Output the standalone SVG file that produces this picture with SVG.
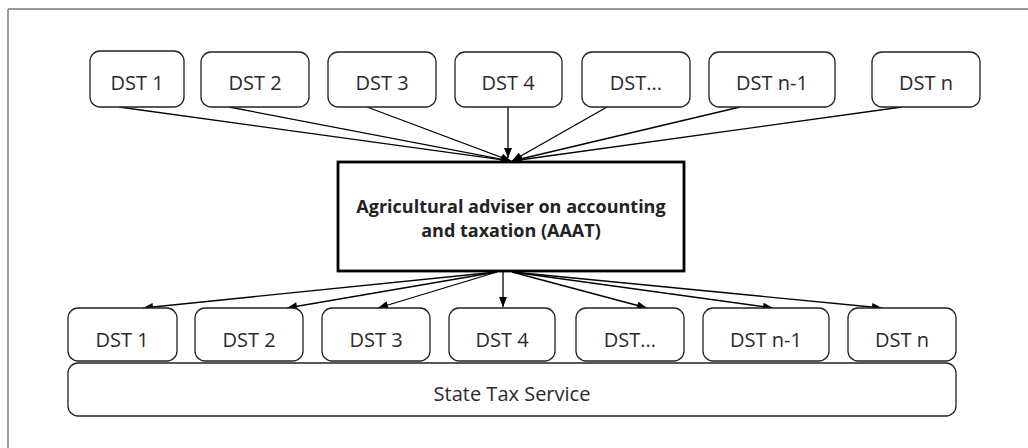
<svg xmlns="http://www.w3.org/2000/svg" width="1028" height="448" viewBox="0 0 1028 448">
  <defs>
    <marker id="arr" viewBox="0 0 10 8" refX="10" refY="4" markerWidth="11" markerHeight="8" markerUnits="userSpaceOnUse" orient="auto">
      <path d="M0,0 L10,4 L0,8 z" fill="#000"/>
    </marker>
    <style>
      .box { fill: #fff; stroke: #222; stroke-width: 1.3; }
      .main { fill: #fff; stroke: #000; stroke-width: 2.8; }
      .lbl { font-family: "Open Sans", "Noto Sans", sans-serif; font-size: 20px; fill: #2a2a2a; text-anchor: middle; }
      .bold { font-family: "Open Sans", "Noto Sans", sans-serif; font-size: 18px; font-weight: bold; fill: #222; text-anchor: middle; }
      .conn line { stroke: #000; stroke-width: 1.3; marker-end: url(#arr); }
    </style>
  </defs>
  <rect width="1028" height="448" fill="#fff"/>
  <g id="frame">
    <line x1="8" y1="9" x2="1028" y2="9" stroke="#333" stroke-width="1.2"/>
    <line x1="8" y1="9" x2="8" y2="448" stroke="#888" stroke-width="1.6"/>
  </g>

  <g class="conn" id="connectors">
    <line x1="119" y1="107" x2="511" y2="161"/>
    <line x1="229" y1="107" x2="511" y2="161"/>
    <line x1="367" y1="107" x2="511" y2="161"/>
    <line x1="508" y1="107" x2="508" y2="158"/>
    <line x1="607" y1="107" x2="512" y2="161"/>
    <line x1="740" y1="107" x2="512" y2="161"/>
    <line x1="902" y1="107" x2="512" y2="161"/>
    <line x1="497" y1="272" x2="143" y2="308"/>
    <line x1="497" y1="272" x2="287" y2="308"/>
    <line x1="497" y1="272" x2="378" y2="308"/>
    <line x1="503" y1="272" x2="503" y2="307"/>
    <line x1="512" y1="272" x2="647" y2="308"/>
    <line x1="512" y1="272" x2="773" y2="308"/>
    <line x1="512" y1="272" x2="882" y2="308"/>
  </g>

  <g id="top-dst1"><rect class="box" x="90" y="51" width="94" height="56" rx="10"/><text class="lbl" x="137" y="90">DST 1</text></g>
  <g id="top-dst2"><rect class="box" x="201" y="52" width="108" height="55" rx="10"/><text class="lbl" x="255" y="90">DST 2</text></g>
  <g id="top-dst3"><rect class="box" x="328" y="52" width="108" height="55" rx="10"/><text class="lbl" x="382" y="90">DST 3</text></g>
  <g id="top-dst4"><rect class="box" x="455" y="52" width="107" height="55" rx="10"/><text class="lbl" x="508" y="90">DST 4</text></g>
  <g id="top-dst5"><rect class="box" x="582" y="52" width="108" height="55" rx="10"/><text class="lbl" x="636" y="90">DST...</text></g>
  <g id="top-dstn1"><rect class="box" x="709" y="52" width="126" height="55" rx="10"/><text class="lbl" x="772" y="90">DST n-1</text></g>
  <g id="top-dstn"><rect class="box" x="872" y="52" width="108" height="55" rx="10"/><text class="lbl" x="926" y="90">DST n</text></g>

  <g id="aaat">
    <rect class="main" x="338" y="162" width="346" height="109"/>
    <text class="bold" x="511" y="213">Agricultural adviser on accounting</text>
    <text class="bold" x="511" y="237">and taxation (AAAT)</text>
  </g>

  <g id="sts"><rect class="box" x="68" y="363" width="888" height="53" rx="10"/><text class="lbl" x="512" y="401">State Tax Service</text></g>

  <g id="bot-dst1"><rect class="box" x="68" y="308" width="109" height="53" rx="10"/><text class="lbl" x="122" y="347">DST 1</text></g>
  <g id="bot-dst2"><rect class="box" x="195" y="308" width="108" height="53" rx="10"/><text class="lbl" x="249" y="347">DST 2</text></g>
  <g id="bot-dst3"><rect class="box" x="322" y="308" width="108" height="53" rx="10"/><text class="lbl" x="376" y="347">DST 3</text></g>
  <g id="bot-dst4"><rect class="box" x="449" y="308" width="106" height="53" rx="10"/><text class="lbl" x="502" y="347">DST 4</text></g>
  <g id="bot-dst5"><rect class="box" x="576" y="308" width="108" height="53" rx="10"/><text class="lbl" x="630" y="347">DST...</text></g>
  <g id="bot-dstn1"><rect class="box" x="703" y="308" width="126" height="53" rx="10"/><text class="lbl" x="766" y="347">DST n-1</text></g>
  <g id="bot-dstn"><rect class="box" x="848" y="308" width="108" height="53" rx="10"/><text class="lbl" x="902" y="347">DST n</text></g>
</svg>
